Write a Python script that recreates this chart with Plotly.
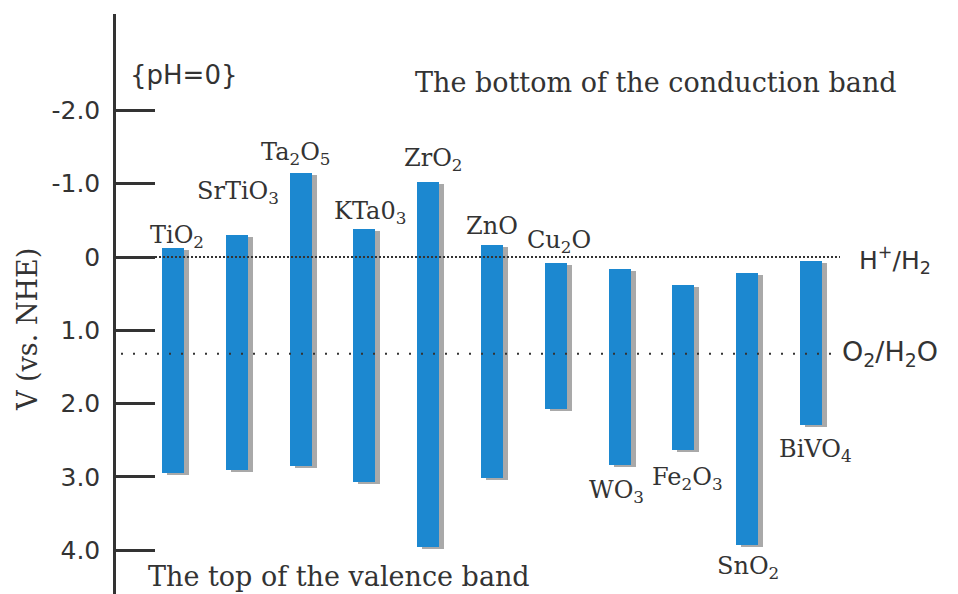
import plotly.graph_objects as go

# ---- data ----
materials = ["TiO<sub>2</sub>", "SrTiO<sub>3</sub>", "Ta<sub>2</sub>O<sub>5</sub>", "KTa0<sub>3</sub>",
             "ZrO<sub>2</sub>", "ZnO", "Cu<sub>2</sub>O", "WO<sub>3</sub>", "Fe<sub>2</sub>O<sub>3</sub>",
             "SnO<sub>2</sub>", "BiVO<sub>4</sub>"]
cb_edge = [-0.12, -0.30, -1.15, -0.38, -1.02, -0.16, 0.08, 0.16, 0.38, 0.22, 0.05]   # bottom of conduction band
vb_edge = [2.95, 2.91, 2.85, 3.07, 3.96, 3.02, 2.07, 2.84, 2.63, 3.93, 2.29]        # top of valence band
label_side = ["top", "top", "top", "top", "top", "top", "top", "bottom", "bottom", "bottom", "bottom"]
h2_level = 0.0
o2_level = 1.32
tick_vals = [-2, -1, 0, 1, 2, 3, 4]
tick_text = ["-2.0", "-1.0", "0", "1.0", "2.0", "3.0", "4.0"]

# ---- styles ----
W, H = 958, 594
L, T = 116, 14
px_per_cat = 63.8
px_per_v = 73.3
bar_w = 22 / px_per_cat
blue = "#1c88d0"
shadow = "#a9a9a9"
ink = "#333333"
serif = "DejaVu Serif"
sans = "DejaVu Sans"
# label offsets (px): horizontal shift of label centre, vertical distance from bar end
label_dx = [4, 1, -5, 6, 5, 0, 3, -3, 4, 1, 4]
label_dy = [12, 43, 19, 17, 23, 19, 21, 26, 29, 22, 26]

lengths = [v - c for v, c in zip(vb_edge, cb_edge)]

fig = go.Figure()
# shadow
fig.add_trace(go.Bar(
    x=materials, y=lengths, base=[c + 2 / px_per_v for c in cb_edge],
    width=bar_w, offset=-bar_w / 2 + 5 / px_per_cat,
    marker=dict(color=shadow, line=dict(width=0)), hoverinfo="skip", showlegend=False))
# bars
fig.add_trace(go.Bar(
    x=materials, y=lengths, base=cb_edge,
    width=bar_w, offset=-bar_w / 2,
    marker=dict(color=blue, line=dict(width=0)), showlegend=False))

annotations = []
for i, m in enumerate(materials):
    if label_side[i] == "top":
        y, ys = cb_edge[i], label_dy[i]
    else:
        y, ys = vb_edge[i], -label_dy[i]
    annotations.append(dict(x=m, y=y, xref="x", yref="y", text=m, showarrow=False,
                            xanchor="center", yanchor="middle", xshift=label_dx[i], yshift=ys,
                            font=dict(family=serif, size=24, color=ink)))

def px_x(px):
    return (px - L) / (W - L)

def px_y(py):
    return 1 - (py - T) / (H - T)

annotations += [
    dict(x=px_x(128), y=px_y(75), xref="paper", yref="paper", text="{pH=0}", showarrow=False,
         xanchor="left", yanchor="middle", font=dict(family=sans, size=26, color=ink)),
    dict(x=px_x(413), y=px_y(82), xref="paper", yref="paper", text="The bottom of the conduction band",
         showarrow=False, xanchor="left", yanchor="middle", font=dict(family=serif, size=27, color=ink)),
    dict(x=px_x(146), y=px_y(576), xref="paper", yref="paper", text="The top of the valence band",
         showarrow=False, xanchor="left", yanchor="middle", font=dict(family=serif, size=27, color=ink)),
    dict(x=px_x(857), y=h2_level, xref="paper", yref="y", text="H<sup>+</sup>/H<sub>2</sub>",
         showarrow=False, xanchor="left", yanchor="middle", yshift=-3,
         font=dict(family=sans, size=25, color=ink)),
    dict(x=px_x(840), y=o2_level, xref="paper", yref="y", text="O<sub>2</sub>/H<sub>2</sub>O",
         showarrow=False, xanchor="left", yanchor="middle",
         font=dict(family=sans, size=27, color=ink)),
    dict(x=px_x(27), y=px_y(330), xref="paper", yref="paper", text="V (vs. NHE)", textangle=-90,
         showarrow=False, xanchor="center", yanchor="middle",
         font=dict(family=serif, size=27, color=ink)),
]

shapes = [
    dict(type="line", xref="paper", yref="y", x0=px_x(155), x1=px_x(840), y0=h2_level, y1=h2_level,
         line=dict(color=ink, width=2, dash="2px,2px")),
    dict(type="line", xref="paper", yref="y", x0=px_x(121), x1=px_x(840), y0=o2_level, y1=o2_level,
         line=dict(color=ink, width=2, dash="2px,10px")),
]

y_top = -(257 - T) / px_per_v
y_bot = (H - 257) / px_per_v
x_left = (L - 173) / px_per_cat
x_right = (W - 173) / px_per_cat

fig.update_layout(
    width=W, height=H,
    margin=dict(l=L, r=0, t=T, b=0, pad=0),
    paper_bgcolor="white", plot_bgcolor="white",
    barmode="overlay",
    bargap=0,
    xaxis=dict(visible=False, range=[x_left, x_right], type="category", categoryorder="array",
               categoryarray=materials),
    yaxis=dict(range=[y_bot, y_top], showgrid=False, zeroline=False,
               showline=True, linecolor=ink, linewidth=2.5,
               ticks="inside", ticklen=39, tickwidth=2.5, tickcolor=ink,
               tickvals=tick_vals, ticktext=tick_text, ticklabelstandoff=8,
               tickfont=dict(family=sans, size=25, color=ink)),
    annotations=annotations,
    shapes=shapes,
)

fig.write_html("out.html")
